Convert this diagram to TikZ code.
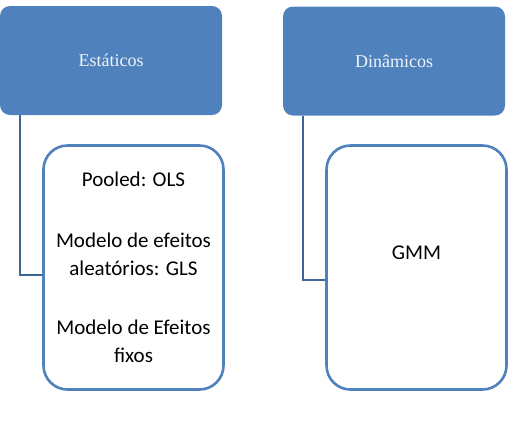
\documentclass[tikz,border=0pt]{standalone}
\usepackage{fontspec}
\setmainfont{Liberation Serif}
\newfontfamily\bodyfont{Carlito}
\definecolor{headblue}{HTML}{4F81BD}
\definecolor{linkblue}{HTML}{3F6596}
\definecolor{headtext}{HTML}{F0F4FA}
\tikzstyle{head}=[rounded corners=10pt, fill=headblue, text=headtext,
  minimum width=222pt, minimum height=109pt, inner sep=0pt, font=\fontsize{18}{22}\selectfont]
\tikzstyle{leaf}=[rounded corners=24pt, draw=headblue, line width=2.6pt, fill=white,
  minimum width=180pt, minimum height=244pt, inner sep=0pt, align=center,
  font=\bodyfont\fontsize{21}{28}\selectfont]
\tikzstyle{link}=[draw=linkblue, line width=2.6pt]

\begin{document}
\begin{tikzpicture}[x=1pt, y=-1pt]
\useasboundingbox (0,0) rectangle (513,432);
% Headers
    \node[head] (estaticos) at (111,60.5) {Estáticos};
    \node[head] (dinamicos) at (394,61) {Dinâmicos};
% Children
    \node[leaf] (pooled) at (133.5,267.5) {Pooled: OLS\\[33pt]Modelo de efeitos\\aleatórios: GLS\\[31pt]Modelo de Efeitos\\fixos};
    \node[leaf, text depth=30pt] (gmm) at (416.5,267.5) {GMM};
% Connectors
    \draw[link] ([xshift=20pt]estaticos.south west) |- ([yshift=-7.5pt]pooled.west);
    \draw[link] ([xshift=20pt]dinamicos.south west) |- ([yshift=-12.5pt]gmm.west);
\end{tikzpicture}
\end{document}
